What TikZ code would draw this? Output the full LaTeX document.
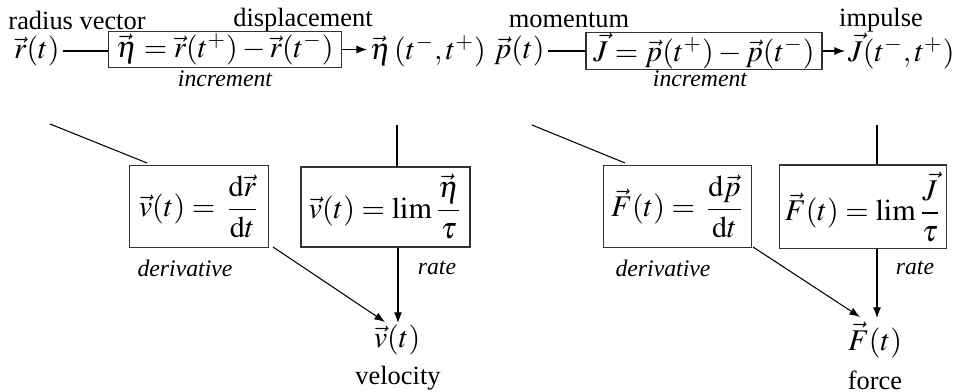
\documentclass[tikz,border=0pt]{standalone}
\usepackage{mathptmx}
\usepackage{fontspec}
\setmainfont{Liberation Serif}
\usetikzlibrary{arrows.meta,calc}
\begin{document}
\begin{tikzpicture}[x=0.3788pt,y=-0.3788pt,
  lab/.style={font=\fontsize{10}{12}\selectfont, inner sep=0pt},
  ilab/.style={font=\fontsize{9}{11}\selectfont\itshape, inner sep=0pt},
  mth/.style={font=\fontsize{11.4}{14}\selectfont, inner sep=1pt},
  bx/.style={mth, draw=black!80, line width=0.4pt, inner sep=0.5pt},
  conn/.style={line width=0.4pt},
  arr/.style={conn, -{Latex[length=4pt,width=3pt]}}]
\useasboundingbox (0,0) rectangle (957,392);
% ---------- left
\node[lab] (lr) at (77,20) {radius vector};
\node[lab] (ldisp) at (303,20) {displacement};
\node[mth, anchor=west] (r) at (11,51) {$\vec r(t)$};
\node[bx, minimum width=88.6pt, minimum height=13.3pt] (inc1) at (225,49.5) {$\vec\eta = \vec r(t^+) - \vec r(t^-)$};
\node[mth, anchor=west] (eta) at (367,51) {$\vec\eta\,(t^-,t^+)$};
\node[ilab] (li1) at (225,79) {increment};
\node[bx, minimum width=53pt, minimum height=31.1pt] (der1) at (199,206.5) {$\vec v(t) = \,\displaystyle\frac{\mathrm{d}\vec r}{\mathrm{d}t}$};
\node[bx, minimum width=64pt, minimum height=30.3pt] (rate1) at (385.5,207) {$\vec v(t) = \lim\displaystyle\frac{\vec\eta}{\tau}$};
\node[ilab] (ld1) at (185,268) {derivative};
\node[ilab] (lra1) at (437,268) {rate};
\node[mth] (v) at (397,340) {$\vec v(t)$};
\node[lab] (lv) at (398,378) {velocity};
\coordinate (a1) at (50,124);
\coordinate (a2) at (147,163);
\coordinate (e1) at (397,125);
\coordinate (d1) at (273,247);
\coordinate (v1) at (385,322);
\coordinate (v2) at (398,323);
\draw[conn] (r.east) -- (r.east -| inc1.west);
\draw[arr] (inc1.east) -- (inc1.east -| eta.west);
\draw[conn] (a1) -- (a2);
\draw[conn] (e1) -- (e1 |- rate1.north);
\draw[arr] (d1) -- (v1);
\draw[arr] (rate1.south -| v2) -- (v2);
% ---------- right
\node[lab] (lm) at (569,20) {momentum};
\node[lab] (limp) at (881,20) {impulse};
\node[mth, anchor=west] (p) at (491,51) {$\vec p(t)$};
\node[bx, minimum width=89.4pt, minimum height=13.6pt] (inc2) at (704,51) {$\vec J = \vec p(t^+) - \vec p(t^-)$};
\node[mth, anchor=west] (J) at (845,51) {$\vec J(t^-,t^+)$};
\node[ilab] (li2) at (700,79) {increment};
\node[bx, minimum width=56.4pt, minimum height=31.1pt] (der2) at (677.5,206.5) {$\vec F(t) = \,\displaystyle\frac{\mathrm{d}\vec p}{\mathrm{d}t}$};
\node[bx, minimum width=63.6pt, minimum height=31.8pt] (rate2) at (863,207) {$\vec F(t) = \lim\displaystyle\frac{\vec J}{\tau}$};
\node[ilab] (ld2) at (663,268) {derivative};
\node[ilab] (lra2) at (915,268) {rate};
\node[mth] (F) at (875,340) {$\vec F(t)$};
\node[lab] (lf) at (875,380) {force};
\coordinate (b1) at (532,125);
\coordinate (b2) at (625,163);
\coordinate (j1) at (877,125);
\coordinate (d2) at (753,247);
\coordinate (f1) at (860,317);
\coordinate (f2) at (877,318);
\draw[conn] (p.east) -- (p.east -| inc2.west);
\draw[arr] (inc2.east) -- (inc2.east -| J.west);
\draw[conn] (b1) -- (b2);
\draw[conn] (j1) -- (j1 |- rate2.north);
\draw[arr] (d2) -- (f1);
\draw[arr] (rate2.south -| f2) -- (f2);
\end{tikzpicture}
\end{document}
